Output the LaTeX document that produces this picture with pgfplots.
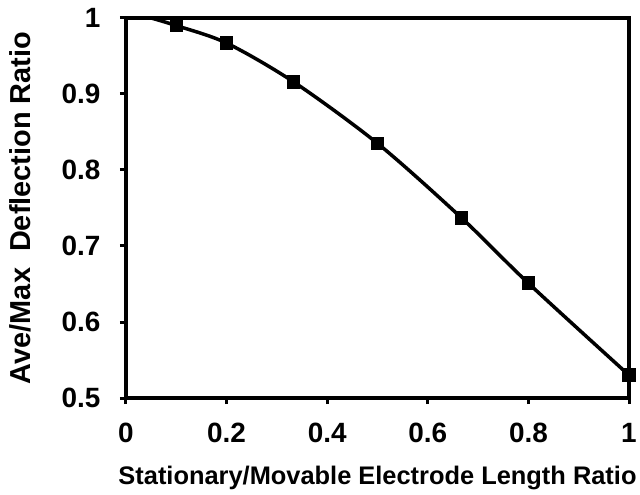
\documentclass[border=0pt]{standalone}
\usepackage{pgfplots}
\pgfplotsset{compat=1.18}
\usepackage{fontspec}
\setmainfont{Liberation Sans}
\begin{document}
\begin{tikzpicture}
\begin{axis}[
  name=ax,
  scale only axis,
  width=503bp, height=380bp,
  xmin=0, xmax=1, ymin=0.5, ymax=1,
  xtick={0,0.2,0.4,0.6,0.8,1},
  ytick={0.5,0.6,0.7,0.8,0.9,1},
  xticklabels={0,0.2,0.4,0.6,0.8,1},
  yticklabels={0.5,0.6,0.7,0.8,0.9,1},
  xtick pos=left, ytick pos=left,
  tick align=outside,
  major tick length=6bp,
  every tick/.style={black, line width=3bp},
  axis line style={line width=4.5bp},
  ticklabel style={font=\fontsize{28}{32}\selectfont\bfseries},
  xticklabel style={yshift=-16bp},
  yticklabel style={xshift=-16bp},
  xlabel={Stationary/Movable Electrode Length Ratio},
  ylabel={Ave/Max\ \ Deflection Ratio},
  xlabel style={font=\fontsize{25.5}{30}\selectfont\bfseries, yshift=-16bp},
  ylabel style={font=\fontsize{29}{34}\selectfont\bfseries, yshift=24bp},
  clip=false,
]
\addplot[black, line width=3.5bp, smooth, mark=square*, mark size=5bp, mark indices={2,3,4,5,6,7,8}, mark options={solid}]
coordinates {
(0.05,1.0)
(0.1,0.990)
(0.2,0.967)
(0.333,0.916)
(0.5,0.835)
(0.667,0.737)
(0.8,0.651)
(1.0,0.530)
};
\end{axis}
\pgfresetboundingbox
\path[use as bounding box] ([xshift=-126bp,yshift=-97bp]ax.south west) rectangle ([xshift=11bp,yshift=18bp]ax.north east);
\end{tikzpicture}
\end{document}
